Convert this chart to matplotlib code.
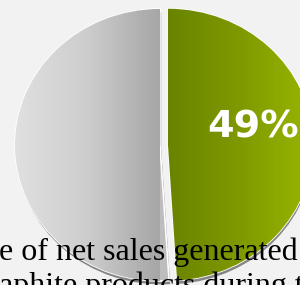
import numpy as np
import matplotlib
matplotlib.use("Agg")
import matplotlib.pyplot as plt
from matplotlib.colors import LinearSegmentedColormap

# ---- data ----
labels = ["Other", "Graphite products"]
shares = [51, 49]
pct_label = "49%"
caption_lines = ["e of net sales generated", "aphite products during t"]

# ---- figure ----
W, H, DPI = 300, 285, 100
fig = plt.figure(figsize=(W / DPI, H / DPI), dpi=DPI, facecolor="#f2f2f2")
ax = fig.add_axes([0, 0, 1, 1])
ax.set_facecolor("#f2f2f2")

# pie geometry in pixels (ellipse due to perspective)
cx, cy, rx, ry = 160.0, 145.0, 145.0, 136.0

def set_limits(a):
    a.set_aspect("auto")
    a.set_xlim((0 - cx) / rx, (W - cx) / rx)
    a.set_ylim((cy - H) / ry, (cy - 0) / ry)
    a.axis("off")

# shadow pie (slightly offset down)
sh_wedges, _ = ax.pie(shares[::-1], startangle=90, counterclock=False,
                      explode=[0.05, 0.0], radius=1.0, center=(0.008, -0.025),
                      colors=["#3d3d3d", "#3d3d3d"],
                      wedgeprops=dict(linewidth=0, alpha=0.6))
set_limits(ax)

# main pie: green first (clockwise from top), grey second
wedges, _ = ax.pie(shares[::-1], startangle=90, counterclock=False,
                   explode=[0.055, 0.0], radius=1.0, center=(0.0, 0.0),
                   colors=["#89a300", "#bdbdbd"],
                   wedgeprops=dict(linewidth=1.2, edgecolor="#ffffff"))
set_limits(ax)

green_cmap = LinearSegmentedColormap.from_list("g", ["#688200", "#7f9a00", "#9bb900"])
grey_cmap = LinearSegmentedColormap.from_list("k", ["#e0e0e0", "#cdcdcd", "#a6a6a6"])
grad = np.linspace(0, 1, 256).reshape(1, -1)

im = ax.imshow(grad, cmap=green_cmap, extent=[0.02, 1.1, -1.1, 1.1],
               aspect="auto", zorder=3)
im.set_clip_path(wedges[0])
im2 = ax.imshow(grad, cmap=grey_cmap, extent=[-1.0, 0.0, -1.1, 1.1],
                aspect="auto", zorder=3)
im2.set_clip_path(wedges[1])
set_limits(ax)

# overlay axes in pixel coordinates for text
tax = fig.add_axes([0, 0, 1, 1])
tax.set_xlim(0, W)
tax.set_ylim(H, 0)
tax.axis("off")
tax.patch.set_alpha(0)

tax.text(207, 138, pct_label, color="white", fontsize=27.5, fontweight="bold",
         family="DejaVu Sans", ha="left", va="baseline", zorder=5)

for i, line in enumerate(caption_lines):
    tax.text(-1, 260 + 34 * i, line, color="black", fontsize=23,
             family="Liberation Serif", ha="left", va="baseline", zorder=6)

fig.savefig("out.png", dpi=DPI, facecolor=fig.get_facecolor())
